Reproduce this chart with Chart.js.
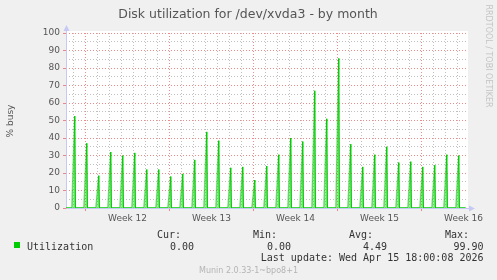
<!DOCTYPE html>
<html>
<head>
<meta charset="utf-8">
<script src="https://cdn.jsdelivr.net/npm/chart.js@4/dist/chart.umd.min.js"></script>
<style>
  html, body { margin: 0; padding: 0; background: #f0f0f0; }
  #wrap { width: 497px; height: 280px; }
</style>
</head>
<body>
<div id="wrap"><canvas id="myChart" width="497" height="280"></canvas></div>
<script>
// daily peak of % busy, one spike per day (first one is the day before week 12)
var peaks = [52.5, 37, 18.5, 32, 30, 31.5, 22, 22, 18, 19.5, 27.5, 43.5, 38.5, 23, 23.5,
             16, 24, 30.5, 40, 38, 67, 51, 85.5, 36.5, 23.5, 30.5, 35, 26, 26.5,
             23.5, 24.5, 30.5, 30];
var firstDay = -1;          // day of first spike, 0 = monday of week 12
var spikeTime = 0.1;        // spikes come shortly after midnight
var dataStart = -1.625;     // days
var dataEnd = 31.68;

var weekTicks = [3.5, 10.5, 17.5, 24.5, 31.5];
var weekLabels = ['Week 12', 'Week 13', 'Week 14', 'Week 15', 'Week 16'];
var yTicks = [0, 10, 20, 30, 40, 50, 60, 70, 80, 90, 100];

var legendHead = ['Cur:', 'Min:', 'Avg:', 'Max:'];
var legendVals = ['0.00', '0.00', '4.49', '99.90'];

// build the line : flat at 0, short ramp up, straight drop
var points = [{x: dataStart, y: 0}];
peaks.forEach(function(v, i) {
  var t = firstDay + i + spikeTime;
  points.push({x: t - 0.24, y: 0});
  points.push({x: t, y: v});
  points.push({x: t + 0.05, y: 0});
});
points.push({x: dataEnd, y: 0});

// day grid lines + week label positions
var xTickVals = [];
for (var d = -1; d <= 31; d++) xTickVals.push(d);
xTickVals = xTickVals.concat(weekTicks).sort(function(a, b) { return a - b; });

var RED = 'rgba(230,90,90,0.7)';
var GREY = 'rgba(130,130,130,0.5)';
var AXIS = '#c8c8f4';

var munin = {
  id: 'munin',
  beforeDraw: function(chart) {
    var ctx = chart.ctx, a = chart.chartArea;
    ctx.save();
    ctx.fillStyle = '#f0f0f0';
    ctx.fillRect(0, 0, chart.width, chart.height);
    ctx.fillStyle = '#ffffff';
    ctx.fillRect(a.left, a.top - 2, a.right - a.left, a.bottom - a.top + 2);
    ctx.restore();
  },
  beforeDatasetsDraw: function(chart) {
    var ctx = chart.ctx, a = chart.chartArea;
    var l = Math.round(a.left) + 0.5, b = Math.round(a.bottom) + 0.5;
    ctx.save();
    ctx.strokeStyle = AXIS;
    ctx.fillStyle = AXIS;
    ctx.lineWidth = 1;
    ctx.beginPath();
    ctx.moveTo(l, b); ctx.lineTo(l, a.top - 3);
    ctx.moveTo(l, b); ctx.lineTo(a.right + 1, b);
    ctx.stroke();
    ctx.beginPath();
    ctx.moveTo(l - 3, a.top - 2); ctx.lineTo(l + 3, a.top - 2); ctx.lineTo(l, a.top - 8);
    ctx.closePath(); ctx.fill();
    ctx.beginPath();
    ctx.moveTo(a.right + 1, b - 3); ctx.lineTo(a.right + 1, b + 3); ctx.lineTo(a.right + 7, b);
    ctx.closePath(); ctx.fill();
    ctx.restore();
  },
  afterDraw: function(chart) {
    var ctx = chart.ctx;
    ctx.save();
    // title
    ctx.fillStyle = '#555';
    ctx.font = '12.5px "DejaVu Sans"';
    ctx.textAlign = 'center';
    ctx.textBaseline = 'alphabetic';
    ctx.fillText('Disk utilization for /dev/xvda3 - by month', 248, 18);

    // y axis title
    ctx.save();
    ctx.translate(12.5, 121);
    ctx.rotate(-Math.PI / 2);
    ctx.font = '9px "DejaVu Sans"';
    ctx.fillStyle = '#555';
    ctx.fillText('% busy', 0, 0);
    ctx.restore();

    // rrdtool watermark
    ctx.save();
    ctx.translate(486, 56);
    ctx.rotate(Math.PI / 2);
    ctx.font = '8px "DejaVu Sans"';
    ctx.fillStyle = '#c4c4c4';
    ctx.fillText('RRDTOOL / TOBI OETIKER', 0, 0);
    ctx.restore();

    // legend
    ctx.font = '10px "DejaVu Sans Mono"';
    ctx.fillStyle = '#333';
    ctx.textAlign = 'right';
    var colRight = [181, 277, 373, 469];
    var valRight = [194, 291, 387, 483.5];
    legendHead.forEach(function(h, i) { ctx.fillText(h, colRight[i], 238); });
    legendVals.forEach(function(v, i) { ctx.fillText(v, valRight[i], 249.5); });
    ctx.fillText('Last update: Wed Apr 15 18:00:08 2026', 483.5, 261);
    ctx.textAlign = 'left';
    ctx.fillText('Utilization', 27, 249.5);
    ctx.fillStyle = '#00cc00';
    ctx.fillRect(14, 242, 6, 6);

    ctx.font = '8px "DejaVu Sans"';
    ctx.fillStyle = '#b4b4b4';
    ctx.textAlign = 'center';
    ctx.fillText('Munin 2.0.33-1~bpo8+1', 248.5, 272.5);
    ctx.restore();
  }
};

Chart.defaults.font.family = '"DejaVu Sans"';
Chart.defaults.color = '#555';

var ctx = document.getElementById('myChart');
new Chart(ctx, {
  type: 'line',
  data: {
    datasets: [{
      label: 'Utilization',
      data: points,
      borderColor: '#00cc00',
      borderWidth: 1.4,
      backgroundColor: 'rgba(0,204,0,0.35)',
      fill: 'origin',
      pointRadius: 0,
      tension: 0,
      segment: {
        borderColor: function(c) {
          return c.p1.parsed.y > c.p0.parsed.y ? 'rgba(0,204,0,0.55)' : '#00cc00';
        }
      }
    }]
  },
  options: {
    responsive: false,
    animation: false,
    layout: { padding: { top: 33, right: 29, left: 0, bottom: 0 } },
    plugins: { legend: { display: false }, tooltip: { enabled: false }, title: { display: false } },
    scales: {
      x: {
        type: 'linear',
        min: dataStart,
        max: 31.875,
        afterBuildTicks: function(scale) {
          scale.ticks = xTickVals.map(function(v) { return { value: v }; });
        },
        afterFit: function(scale) { scale.height = 72; },
        border: { display: false, dash: [1, 2] },
        grid: {
          color: function(c) {
            var v = c.tick ? c.tick.value : 0;
            if (v % 1 !== 0) return 'rgba(0,0,0,0)';
            return v % 7 === 0 ? RED : GREY;
          },
          tickColor: function(c) {
            var v = c.tick ? c.tick.value : 0;
            return (v % 7 === 0) ? RED : 'rgba(0,0,0,0)';
          },
          tickLength: 3,
          lineWidth: 1
        },
        ticks: {
          autoSkip: false,
          maxRotation: 0,
          padding: 2,
          color: '#555',
          font: { size: 9 },
          callback: function(v) {
            var i = weekTicks.indexOf(v);
            return i >= 0 ? weekLabels[i] : '';
          }
        }
      },
      y: {
        min: 0,
        max: 100,
        afterFit: function(scale) { scale.width = 66; },
        border: { display: false, dash: [1, 2] },
        grid: {
          color: function(c) {
            var v = c.tick ? c.tick.value : 0;
            return yTicks.indexOf(v) >= 0 ? RED : GREY;
          },
          tickColor: function(c) {
            var v = c.tick ? c.tick.value : 0;
            return yTicks.indexOf(v) >= 0 ? RED : 'rgba(0,0,0,0)';
          },
          tickLength: 3
        },
        ticks: {
          stepSize: 5,
          maxTicksLimit: 25,
          autoSkip: false,
          padding: 3,
          color: '#555',
          font: { size: 9 },
          callback: function(v) { return yTicks.indexOf(v) >= 0 ? String(v) : ''; }
        }
      }
    }
  },
  plugins: [munin]
});
</script>
</body>
</html>
